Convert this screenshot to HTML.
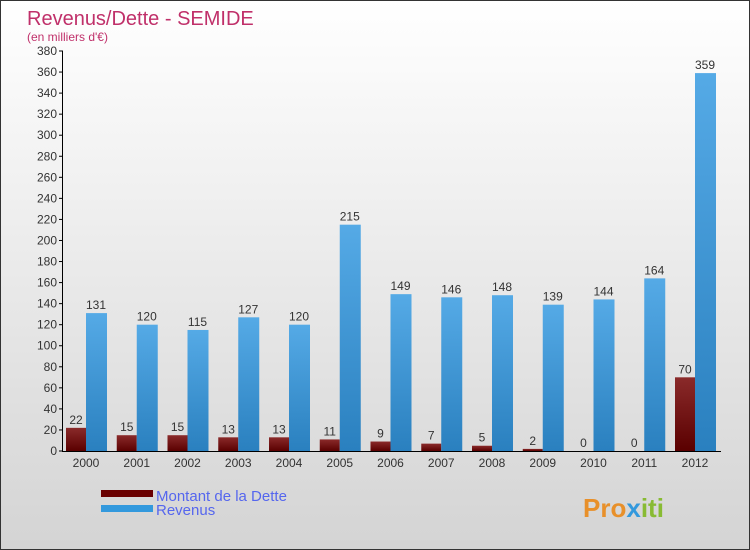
<!DOCTYPE html>
<html><head><meta charset="utf-8"><style>
body{margin:0}
#c{width:750px;height:550px;position:relative;overflow:hidden;background:linear-gradient(#ffffff,#d4d4d4);border:1px solid #333;box-sizing:border-box;font-family:"Liberation Sans",sans-serif}
</style></head><body>
<div id="c">
<svg id="s" width="750" height="550">
<defs>
<linearGradient id="gd" x1="0" y1="0" x2="0" y2="1"><stop offset="0" stop-color="#8a2a2a"/><stop offset="1" stop-color="#5a0000"/></linearGradient>
<linearGradient id="gr" x1="0" y1="0" x2="0" y2="1"><stop offset="0" stop-color="#55aae6"/><stop offset="1" stop-color="#2a80bf"/></linearGradient>
</defs>
<text x="26" y="24" font-size="20" fill="#c0306a">Revenus/Dette - SEMIDE</text>
<text x="26" y="40" font-size="12" fill="#c0306a">(en milliers d'€)</text>
<g id="g"></g>
<rect x="100" y="489" width="52" height="7" fill="#6a0000"/>
<rect x="100" y="504" width="52" height="7" fill="#3399dd"/>
<text x="155" y="500" font-size="15" fill="#5566ee">Montant de la Dette</text>
<text x="155" y="514" font-size="15" fill="#5566ee">Revenus</text>
<text x="582" y="516" font-size="26" font-weight="bold" fill="#e8902a">Pro<tspan fill="#3399dd">x</tspan><tspan fill="#88bb33">iti</tspan></text>
</svg>
</div>
<script>
const years=["2000","2001","2002","2003","2004","2005","2006","2007","2008","2009","2010","2011","2012"];
const dette=[22,15,15,13,13,11,9,7,5,2,0,0,70];
const revenus=[131,120,115,127,120,215,149,146,148,139,144,164,359];
const yTicks=[0,20,40,60,80,100,120,140,160,180,200,220,240,260,280,300,320,340,360,380];
const NS="http://www.w3.org/2000/svg";
const g=document.getElementById('g');
const y0=450,yMax=380,yPix=400;
function y(v){return y0-v*yPix/yMax;}
function x(i){return 65+i*50.75;}
function el(t,a){const e=document.createElementNS(NS,t);for(const k in a)e.setAttribute(k,a[k]);g.appendChild(e);return e;}
yTicks.forEach(t=>{
  const l=el('line',{x1:58,x2:62,y1:y(t),y2:y(t),stroke:'#000'});
  
  
  const tx=el('text',{x:56,y:y(t)+4,'text-anchor':'end','font-size':12,fill:'#333'});
  tx.textContent=t;
  
  
});
years.forEach((yr,i)=>{
  const bx=x(i);
  const d=el('rect',{x:bx,y:y(dette[i]),width:20,height:y0-y(dette[i]),fill:'url(#gd)'});
  
  
  const r=el('rect',{x:bx+20,y:y(revenus[i]),width:21,height:y0-y(revenus[i]),fill:'url(#gr)'});
  
  
  const dl=el('text',{x:bx+10,y:y(dette[i])-4,'text-anchor':'middle','font-size':12,fill:'#333'});
  dl.textContent=dette[i];
  
  
  const rl=el('text',{x:bx+30,y:y(revenus[i])-4,'text-anchor':'middle','font-size':12,fill:'#333'});
  rl.textContent=revenus[i];
  
  
  const xl=el('text',{x:bx+20,y:466,'text-anchor':'middle','font-size':12,fill:'#333'});
  xl.textContent=yr;
  
  
});
const ya=el('line',{x1:61.5,x2:61.5,y1:y(yMax),y2:y0,stroke:'#000'});


const xa=el('line',{x1:61,x2:720,y1:y0+0.5,y2:y0+0.5,stroke:'#000'});


</script>
</body></html>
